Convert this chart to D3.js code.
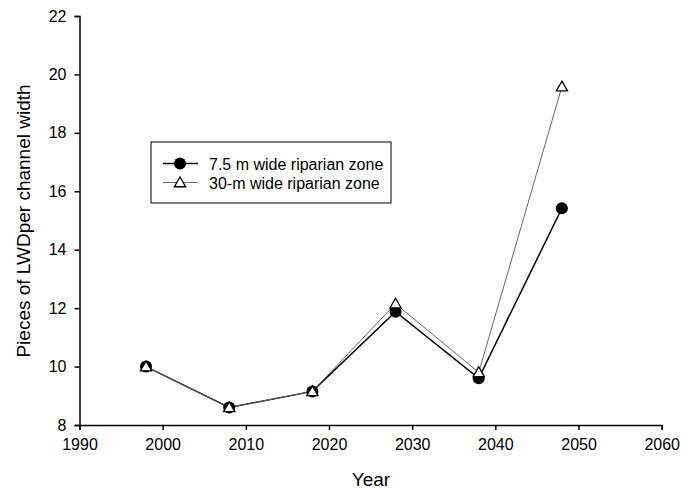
<!DOCTYPE html>
<html>
<head>
<title>LWD chart</title>
<script src="https://d3js.org/d3.v7.min.js"></script>
<style>
  body { margin: 0; background: #fff; }
  text { font-family: "Liberation Sans", Arial, sans-serif; fill: #000; }
</style>
</head>
<body>
<div id="chart"></div>
<script>
// data
var years = [1998, 2008, 2018, 2028, 2038, 2048];
var narrowZone = [10.0, 8.6, 9.15, 11.88, 9.6, 15.42];   // 7.5 m
var wideZone = [10.0, 8.6, 9.15, 12.15, 9.8, 19.58];     // 30 m
var xTicks = [1990, 2000, 2010, 2020, 2030, 2040, 2050, 2060];
var yTicks = [8, 10, 12, 14, 16, 18, 20, 22];
var seriesNames = ["7.5 m wide riparian zone", "30-m wide riparian zone"];

var width = 694, height = 491;

var svg = d3.select("#chart").append("svg")
  .attr("width", width)
  .attr("height", height);

var x = d3.scaleLinear().domain([1990, 2060]).range([79.5, 661.7]);
var y = d3.scaleLinear().domain([8, 22]).range([425, 16]);

// axes
var xAxis = svg.append("g")
  .attr("transform", "translate(0,425)")
  .call(d3.axisBottom(x).tickValues(xTicks).tickFormat(d3.format("d")).tickSize(5).tickPadding(9));
var yAxis = svg.append("g")
  .attr("transform", "translate(79.5,0)")
  .call(d3.axisLeft(y).tickValues(yTicks).tickSize(5).tickPadding(8));

[xAxis, yAxis].forEach(function(a) {
  a.select(".domain").attr("stroke", "#000").attr("stroke-width", 1.5);
  a.selectAll(".tick line").attr("stroke", "#000").attr("stroke-width", 1.5);
  a.selectAll(".tick text").style("font-size", "16px").attr("fill", "#000");
});

svg.append("text")
  .attr("x", 371).attr("y", 486)
  .attr("text-anchor", "middle")
  .style("font-size", "19px")
  .text("Year");

svg.append("text")
  .attr("transform", "translate(30,221) rotate(-90)")
  .attr("text-anchor", "middle")
  .style("font-size", "19px")
  .text("Pieces of LWDper channel width");

var line = d3.line()
  .x(function(d) { return x(d[0]); })
  .y(function(d) { return y(d[1]); });

var narrowPts = years.map(function(yr, i) { return [yr, narrowZone[i]]; });
var widePts = years.map(function(yr, i) { return [yr, wideZone[i]]; });

var tri = d3.symbol().type(d3.symbolTriangle).size(55);

// 7.5 m series
svg.append("path")
  .attr("d", line(narrowPts))
  .attr("fill", "none")
  .attr("stroke", "#000")
  .attr("stroke-width", 1.5);

// 30 m series
svg.append("path")
  .attr("d", line(widePts))
  .attr("fill", "none")
  .attr("stroke", "#666")
  .attr("stroke-width", 1);

svg.selectAll("circle.pt")
  .data(narrowPts)
  .enter().append("circle")
  .attr("class", "pt")
  .attr("cx", function(d) { return x(d[0]); })
  .attr("cy", function(d) { return y(d[1]); })
  .attr("r", 6)
  .attr("fill", "#000");

svg.selectAll("path.tri")
  .data(widePts)
  .enter().append("path")
  .attr("class", "tri")
  .attr("d", tri)
  .attr("transform", function(d) { return "translate(" + x(d[0]) + "," + (y(d[1]) + 1) + ")"; })
  .attr("fill", "#fff")
  .attr("stroke", "#000")
  .attr("stroke-width", 1.3);

// legend
var legend = svg.append("g").attr("transform", "translate(151,142)");
legend.append("rect")
  .attr("width", 240).attr("height", 61)
  .attr("fill", "#fff")
  .attr("stroke", "#000")
  .attr("stroke-width", 1);

var rows = [
  { name: seriesNames[0], yy: 21.5, stroke: "#000", sw: 1.5 },
  { name: seriesNames[1], yy: 40.5, stroke: "#666", sw: 1 }
];
rows.forEach(function(r, i) {
  legend.append("line")
    .attr("x1", 12).attr("x2", 47)
    .attr("y1", r.yy).attr("y2", r.yy)
    .attr("stroke", r.stroke).attr("stroke-width", r.sw);
  if (i === 0) {
    legend.append("circle").attr("cx", 29).attr("cy", r.yy).attr("r", 6).attr("fill", "#000");
  } else {
    legend.append("path").attr("d", tri)
      .attr("transform", "translate(29," + (r.yy + 1) + ")")
      .attr("fill", "#fff").attr("stroke", "#000").attr("stroke-width", 1.3);
  }
  legend.append("text")
    .attr("x", 58).attr("y", r.yy + 6)
    .style("font-size", "16px")
    .text(r.name);
});
</script>
</body>
</html>
